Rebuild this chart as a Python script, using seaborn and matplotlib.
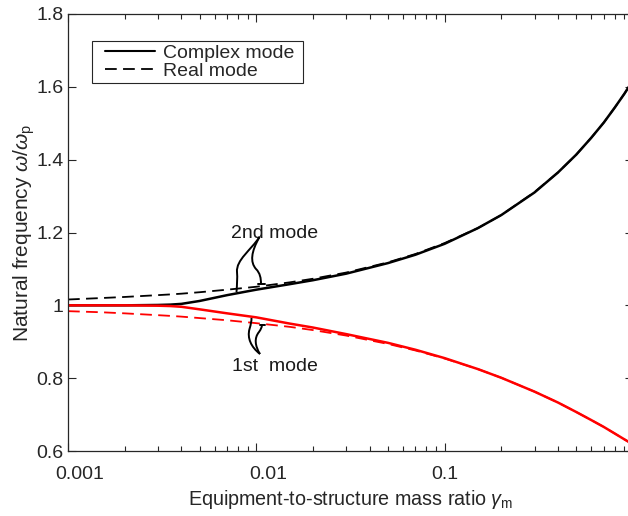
import numpy as np
import pandas as pd
import matplotlib
matplotlib.use("Agg")
import matplotlib.pyplot as plt
import matplotlib.ticker as mticker
import matplotlib.transforms as mtransforms
from matplotlib.path import Path
from matplotlib.patches import PathPatch
from matplotlib.lines import Line2D
from matplotlib.legend_handler import HandlerLine2D
import seaborn as sns

# Equipment-to-structure mass ratio samples
gamma = [0.001, 0.0015, 0.002, 0.003, 0.0035, 0.004, 0.005, 0.007, 0.01, 0.015,
         0.02, 0.03, 0.05, 0.07, 0.1, 0.15, 0.2, 0.3, 0.4, 0.5, 0.6, 0.7,
         0.8, 0.9, 1.0]

# Natural frequency ratio, complex-mode analysis
complex_2nd = [1.000, 1.000, 1.000, 1.001, 1.002, 1.004, 1.012, 1.028, 1.043, 1.058,
               1.069, 1.087, 1.116, 1.139, 1.169, 1.212, 1.248, 1.310, 1.365, 1.414,
               1.460, 1.502, 1.543, 1.581, 1.618]
complex_1st = [1.000, 1.000, 1.000, 0.999, 0.998, 0.996, 0.989, 0.978, 0.967, 0.950,
               0.939, 0.921, 0.897, 0.878, 0.855, 0.825, 0.801, 0.763, 0.733, 0.707,
               0.685, 0.666, 0.648, 0.632, 0.618]

# Natural frequency ratio, real-mode analysis
real_2nd = [1.016, 1.020, 1.023, 1.028, 1.030, 1.032, 1.036, 1.043, 1.051, 1.063,
            1.073, 1.090, 1.118, 1.141, 1.171, 1.212, 1.248, 1.311, 1.365, 1.414,
            1.460, 1.502, 1.543, 1.581, 1.618]
real_1st = [0.984, 0.981, 0.978, 0.973, 0.971, 0.969, 0.965, 0.959, 0.951, 0.941,
            0.932, 0.917, 0.894, 0.876, 0.854, 0.825, 0.801, 0.763, 0.733, 0.707,
            0.685, 0.666, 0.648, 0.632, 0.618]

y_ticks = [0.6, 0.8, 1.0, 1.2, 1.4, 1.6, 1.8]
y_tick_labels = ["0.6", "0.8", "1", "1.2", "1.4", "1.6", "1.8"]
x_ticks = [0.001, 0.01, 0.1, 1.0]
x_tick_labels = ["0.001", "0.01", "0.1", ""]

sns.set_style("ticks")
plt.rcParams["font.family"] = ["Liberation Sans", "DejaVu Sans"]
plt.rcParams["mathtext.fontset"] = "custom"
plt.rcParams["mathtext.rm"] = "Liberation Sans"
plt.rcParams["mathtext.it"] = "Liberation Sans:italic"
plt.rcParams["mathtext.bf"] = "Liberation Sans:bold"

W, H = 628, 516
fig = plt.figure(figsize=(W / 100, H / 100), dpi=100)
ax = fig.add_axes([68 / W, 65 / H, 565 / W, 437 / H])

df = pd.DataFrame({"gamma": gamma, "c2": complex_2nd, "c1": complex_1st,
                   "r2": real_2nd, "r1": real_1st})

lw_solid = 1.8
lw_dash = 1.3
dash = (0, (6.5, 3.5))
sns.lineplot(data=df, x="gamma", y="r2", ax=ax, color="black", lw=lw_dash, linestyle=dash)
sns.lineplot(data=df, x="gamma", y="r1", ax=ax, color="#ff0000", lw=lw_dash, linestyle=dash)
sns.lineplot(data=df, x="gamma", y="c2", ax=ax, color="black", lw=lw_solid)
sns.lineplot(data=df, x="gamma", y="c1", ax=ax, color="#ff0000", lw=lw_solid)

ax.set_xscale("log")
ax.set_xlim(0.001, 1.0)
ax.set_ylim(0.6, 1.8)
ax.xaxis.set_major_locator(mticker.FixedLocator(x_ticks))
ax.xaxis.set_major_formatter(mticker.FixedFormatter(x_tick_labels))
ax.xaxis.set_minor_locator(mticker.LogLocator(base=10, subs=np.arange(2, 10)))
ax.xaxis.set_minor_formatter(mticker.NullFormatter())
ax.set_yticks(y_ticks)
ax.set_yticklabels(y_tick_labels)

spine_c = "#262626"
for s in ax.spines.values():
    s.set_visible(True)
    s.set_color(spine_c)
    s.set_linewidth(0.9)
ax.tick_params(which="both", direction="in", top=True, right=True,
               colors=spine_c, labelcolor="#262626", labelsize=14, width=0.8)
ax.tick_params(which="major", length=6)
ax.tick_params(which="minor", length=3.5)
ax.tick_params(axis="y", pad=3)
ax.tick_params(axis="x", pad=10.5)

# the two lower decade labels sit a little right of their ticks
shift = mtransforms.ScaledTranslation(12 / 100, 0, fig.dpi_scale_trans)
for t in ax.xaxis.get_major_ticks()[:2]:
    t.label1.set_transform(t.label1.get_transform() + shift)

ax.set_xlabel(r"Equipment-to-structure mass ratio $\mathit{\gamma}_{\mathrm{m}}$",
              fontsize=14.2, color="#262626", labelpad=4)
ax.set_ylabel(r"Natural frequency $\mathit{\omega}/\mathit{\omega}_{\mathrm{p}}$",
              fontsize=15, color="#262626", labelpad=0)

handles = [Line2D([], [], color="black", lw=1.5),
           Line2D([], [], color="black", lw=1.3, linestyle=dash)]
hmap = {h: HandlerLine2D(xpad=0.51) for h in handles}
leg = ax.legend(handles, ["Complex mode ", "Real mode"], loc="upper left",
                bbox_to_anchor=(24 / 565, (451 - 41) / 437), fontsize=14,
                frameon=True, fancybox=False, framealpha=1, edgecolor="#262626",
                handlelength=3.09, handletextpad=0.41, borderpad=0.15,
                labelspacing=0.05, borderaxespad=0, handler_map=hmap)
leg.get_frame().set_linewidth(0.8)

# Mode labels with curly leader lines
ax.text(0.0125, 1.197, "2nd mode", fontsize=14, ha="center", va="center", color="#1a1a1a")
ax.text(0.0125, 0.833, "1st  mode", fontsize=14, ha="center", va="center", color="#1a1a1a")

ident = mtransforms.IdentityTransform()


def px(x, y):
    return (x, H - y)


def leader(points, bar=None):
    pts = [px(*p) for p in points]
    codes = [Path.MOVETO] + [Path.CURVE4] * (len(pts) - 1)
    fig.add_artist(PathPatch(Path(pts, codes), transform=ident,
                             fill=False, lw=1.4, ec="black"))
    if bar is not None:
        x0, x1, yb = bar
        fig.add_artist(Line2D([x0, x1], [H - yb, H - yb], lw=1.4, color="black",
                              transform=ident))


# 2nd mode leaders
leader([(259.5, 237), (251, 250), (236, 260), (237, 272),
        (237.5, 278), (237, 285), (236.5, 292)])
leader([(259.5, 237), (251, 252), (250, 262), (256, 269),
        (260, 273), (261, 278), (261, 284)], bar=(257.5, 264.5, 284))
# 1st mode leaders
leader([(260, 354), (251, 347), (247, 338), (249.5, 329),
        (251, 324), (251.5, 321), (251.5, 318)])
leader([(260, 354), (255, 346), (254, 338), (259, 332),
        (261, 329), (262, 327), (262, 324.5)], bar=(259.5, 264.5, 324.5))

fig.savefig("out.png", dpi=100)
